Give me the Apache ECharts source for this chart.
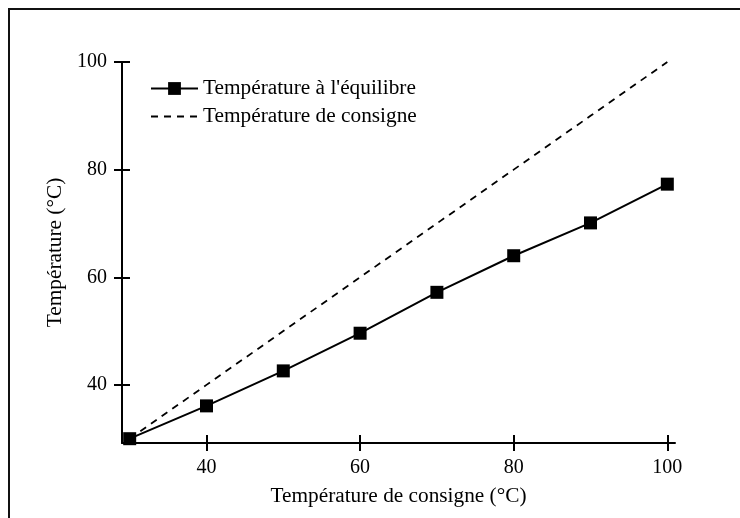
<!DOCTYPE html>
<html>
<head>
<meta charset="utf-8">
<script src="https://cdn.jsdelivr.net/npm/echarts@6/dist/echarts.min.js"></script>
<style>html,body{margin:0;padding:0;background:#fff}#c{width:740px;height:518px}</style>
</head>
<body>
<div id="c"></div>
<script>
const setpoints = [30, 40, 50, 60, 70, 80, 90, 100];
const equilibrium = [30, 36.1, 42.6, 49.6, 57.2, 64.0, 70.1, 77.3];
const consigne = [30, 40, 50, 60, 70, 80, 90, 100];
const xTicks = [40, 60, 80, 100];
const yTicks = [40, 60, 80, 100];
const seriesNames = ["Température à l'équilibre", "Température de consigne"];
const xTitle = "Température de consigne (°C)";
const yTitle = "Température (°C)";

const font = "'Liberation Serif', 'DejaVu Serif', serif";
const chart = echarts.init(document.getElementById('c'), null, {renderer: 'canvas'});
const grid = {left: 122, right: 65, top: 62, bottom: 75};
const xMin = 29, xMax = 101, yMin = 29.2, yMax = 100;

chart.setOption({
  animation: false,
  backgroundColor: '#fff',
  textStyle: {fontFamily: font, color: '#000'},
  graphic: [{
    type: 'rect', shape: {x: 9, y: 9, width: 800, height: 600},
    style: {fill: 'none', stroke: '#111', lineWidth: 2}, silent: true, z: -1
  }],
  grid: grid,
  legend: {
    orient: 'vertical', left: 145, top: 73, itemWidth: 47, itemHeight: 16, itemGap: 7,
    textStyle: {fontFamily: font, fontSize: 21.3, color: '#000'},
    data: [seriesNames[0], {name: seriesNames[1], itemStyle: {opacity: 0}}]
  },
  xAxis: [{
    type: 'value', min: xMin, max: xMax, position: 'bottom',
    splitLine: {show: false},
    axisLine: {show: true, lineStyle: {color: '#000', width: 2}},
    axisTick: {show: true, length: 8, lineStyle: {color: '#000', width: 2}, customValues: xTicks},
    axisLabel: {show: true, fontFamily: font, fontSize: 20, color: '#000', margin: 15, customValues: xTicks},
    name: xTitle, nameLocation: 'middle', nameGap: 43,
    nameTextStyle: {fontFamily: font, fontSize: 21.3, color: '#000'}
  }, {
    type: 'value', min: xMin, max: xMax, position: 'bottom',
    splitLine: {show: false}, axisLine: {show: false},
    axisTick: {show: true, inside: true, length: 8, lineStyle: {color: '#000', width: 2}, customValues: xTicks},
    axisLabel: {show: false}
  }],
  yAxis: [{
    type: 'value', min: yMin, max: yMax, position: 'left',
    splitLine: {show: false},
    axisLine: {show: true, lineStyle: {color: '#000', width: 2}},
    axisTick: {show: true, length: 8, lineStyle: {color: '#000', width: 2}, customValues: yTicks},
    axisLabel: {show: true, fontFamily: font, fontSize: 20, color: '#000', margin: 15, customValues: yTicks},
    name: yTitle, nameLocation: 'middle', nameGap: 52, nameRotate: 90,
    nameTextStyle: {fontFamily: font, fontSize: 21.3, color: '#000'}
  }, {
    type: 'value', min: yMin, max: yMax, position: 'left',
    splitLine: {show: false}, axisLine: {show: false},
    axisTick: {show: true, inside: true, length: 8, lineStyle: {color: '#000', width: 2}, customValues: yTicks},
    axisLabel: {show: false}
  }],
  series: [{
    name: seriesNames[0], type: 'line',
    data: setpoints.map((x, i) => [x, equilibrium[i]]),
    symbol: 'rect', symbolSize: 13, showAllSymbol: true,
    lineStyle: {color: '#000', width: 2},
    itemStyle: {color: '#000'},
    clip: false, z: 3
  }, {
    name: seriesNames[1], type: 'line',
    data: setpoints.map((x, i) => [x, consigne[i]]),
    symbol: 'none',
    lineStyle: {color: '#000', width: 1.8, type: [7, 6]},
    itemStyle: {color: '#000'},
    clip: false, z: 2
  }]
});
</script>
</body>
</html>
